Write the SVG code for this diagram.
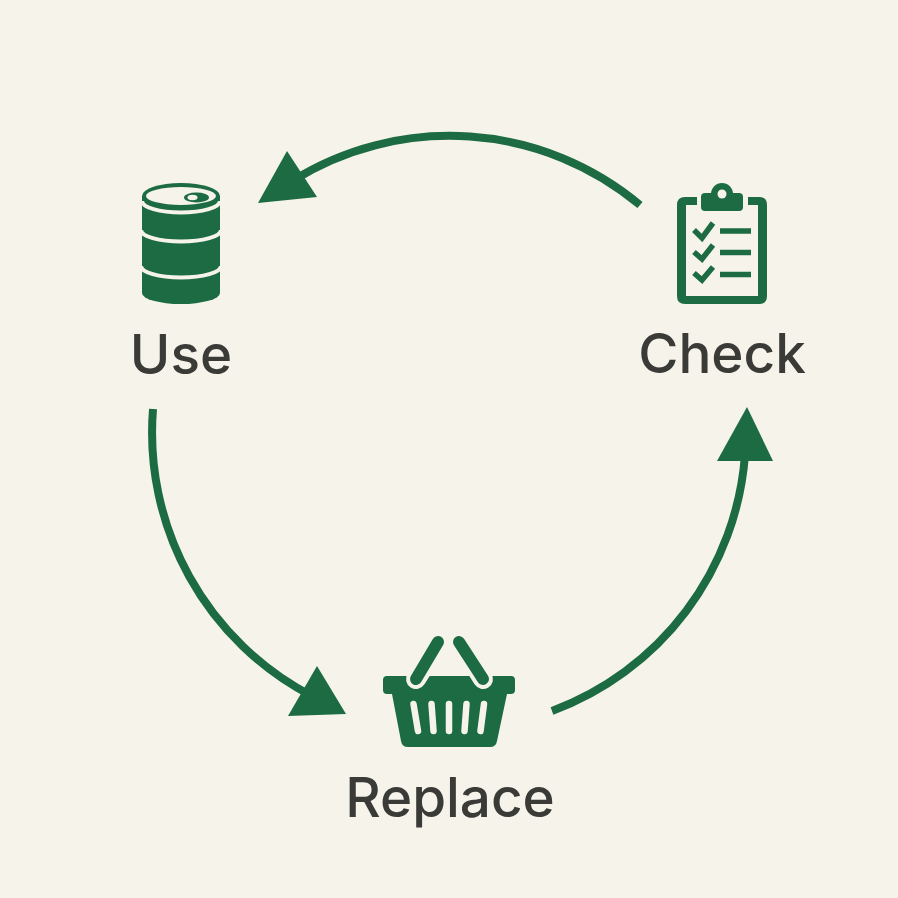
<svg xmlns="http://www.w3.org/2000/svg" width="898" height="898" viewBox="0 0 898 898">
<style>
.bg{fill:#f6f3eb}
.g{fill:#1c6b42}
.c{fill:#f6f3eb}
.l{font-family:Inter,"Liberation Sans",sans-serif;font-size:54.800px;font-weight:500;fill:#3a3a37;text-anchor:middle}
.arc{fill:none;stroke:#1c6b42;stroke-width:8}
.ln{fill:none;stroke:#1c6b42;stroke-width:5.500}
.cl{fill:none;stroke:#f6f3eb}
</style>
<rect class="bg" width="898" height="898"/>
<g id="connectors">
<path class="arc" d="M640 205A297 297 0 0 0 292 181"/>
<polygon class="g" points="258,203 287,151 317,197"/>
<path class="arc" d="M153 409A297 297 0 0 0 312 696"/>
<polygon class="g" points="346,714 288,716 317,666"/>
<path class="arc" d="M552 711A297 297 0 0 0 745 455"/>
<polygon class="g" points="747,407 717,461 773,461"/>
</g>
<g id="use">
<path class="g" d="M142 196A39 13 0 0 1 220 196V293A39 11 0 0 1 142 293Z"/>
<path class="cl" stroke-width="4" d="M142 201A39 11.500 0 0 0 220 201M141 230A40 11.500 0 0 0 221 230M141 266A40 11.500 0 0 0 221 266"/>
<ellipse cx="181" cy="196" rx="35" ry="9" class="c"/>
<ellipse cx="196.500" cy="197.500" rx="12.500" ry="5" class="g"/>
<ellipse cx="192.500" cy="197.500" rx="5" ry="2.800" class="c"/>
<text class="l" x="181" y="374">Use</text>
</g>
<g id="check">
<path class="g" d="M697 197H685Q677 197 677 205V296Q677 304 685 304H759Q767 304 767 296V205Q767 197 759 197H748V205H758V296H686V205H697Z"/>
<circle cx="722" cy="194" r="11" class="g"/>
<rect x="701" y="193" width="42" height="18" rx="4" class="g"/>
<circle cx="722" cy="194" r="4.500" class="c"/>
<path class="ln" d="M694 230L702 238L713 223M694 252L702 259L713 245M694 273L702 280L713 267"/>
<path class="ln" d="M720 231H751M720 252.500H751M720 274.500H751"/>
<text class="l" x="722" y="373">Check</text>
</g>
<g id="replace">
<path class="g" d="M387 676H511Q515 676 515 680V690Q515 694 511 694H507L497 741Q496 747 490 747H408Q402 747 401 741L392 694H387Q383 694 383 690V680Q383 676 387 676Z"/>
<path class="cl" stroke-width="20" stroke-linecap="round" d="M416 679L428 660M483 679L471 660"/>
<path fill="none" stroke="#1c6b42" stroke-width="12" stroke-linecap="round" d="M416 679L438 642M483 679L459 642"/>
<path class="cl" stroke-width="6.500" stroke-linecap="round" d="M413.500 704L418 731M431.500 704L433.500 731M449 704V731M466.500 704L464.500 731M484 704L480.500 731"/>
<text class="l" x="450" y="817">Replace</text>
</g>
</svg>
